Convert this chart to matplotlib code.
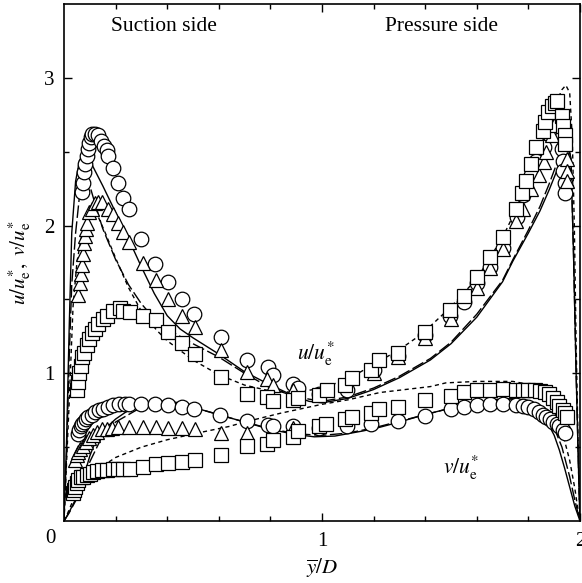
import matplotlib
matplotlib.use("Agg")
import matplotlib.pyplot as plt

plt.rcParams['font.family'] = 'serif'
plt.rcParams['font.serif'] = ['Liberation Serif', 'DejaVu Serif']
plt.rcParams['mathtext.fontset'] = 'stix'

# ---- model curves, u/u_e* ----
u_solid_x = [0, 0.01, 0.02, 0.03, 0.045, 0.06, 0.075, 0.09, 0.112, 0.15, 0.2, 0.25, 0.3, 0.35, 0.4, 0.45, 0.5,
             0.6, 0.7, 0.8, 0.9, 0.95, 1.0, 1.1, 1.2, 1.3, 1.42, 1.5, 1.55, 1.6, 1.65, 1.7, 1.74, 1.8, 1.845,
             1.88, 1.91, 1.94, 1.955, 1.965, 1.975, 1.985, 1.995, 2.0]
u_solid_y = [0, 0.55, 1.3, 1.95, 2.3, 2.44, 2.49, 2.5, 2.4, 2.27, 2.09, 1.91, 1.72, 1.54, 1.39, 1.3, 1.24,
             1.13, 1.01, 0.92, 0.84, 0.81, 0.80, 0.83, 0.89, 0.97, 1.09, 1.2, 1.29, 1.38, 1.5, 1.62, 1.76, 1.95, 2.1,
             2.24, 2.37, 2.5, 2.53, 2.45, 1.8, 1.0, 0.3, 0]

u_ldash_x = [0, 0.01, 0.02, 0.03, 0.045, 0.06, 0.085, 0.1, 0.12, 0.15, 0.2, 0.25, 0.3, 0.35, 0.4, 0.5,
             0.6, 0.7, 0.8, 0.9, 1.0, 1.1, 1.2, 1.3, 1.42, 1.5, 1.6, 1.7, 1.74, 1.8, 1.845,
             1.88, 1.91, 1.94, 1.955, 1.965, 1.975, 1.985, 1.995, 2.0]
u_ldash_y = [0, 0.45, 1.1, 1.6, 1.95, 2.2, 2.3, 2.27, 2.15, 1.98, 1.77, 1.6, 1.47, 1.37, 1.3, 1.2,
             1.11, 1.0, 0.9, 0.84, 0.81, 0.84, 0.9, 0.98, 1.1, 1.21, 1.4, 1.63, 1.77, 1.97, 2.13,
             2.28, 2.42, 2.53, 2.55, 2.45, 1.8, 1.0, 0.3, 0]

u_sdash_x = [0, 0.01, 0.02, 0.035, 0.05, 0.07, 0.09, 0.11, 0.13, 0.16, 0.2, 0.25, 0.3, 0.36, 0.4, 0.5,
             0.6, 0.7, 0.8, 0.9, 1.0, 1.1, 1.2, 1.3, 1.39, 1.5, 1.6, 1.65, 1.7, 1.75, 1.8, 1.83, 1.87,
             1.9, 1.93, 1.945, 1.96, 1.97, 1.978, 1.985, 1.993, 2.0]
u_sdash_y = [0, 0.4, 0.8, 1.45, 1.75, 1.95, 2.05, 2.09, 2.07, 1.95, 1.78, 1.58, 1.42, 1.29, 1.22, 1.09,
             0.99, 0.92, 0.88, 0.87, 0.9, 0.96, 1.06, 1.16, 1.27, 1.45, 1.64, 1.78, 1.92, 2.1, 2.3, 2.44, 2.65,
             2.8, 2.92, 2.95, 2.9, 2.6, 2.0, 1.2, 0.5, 0]

# ---- model curves, v/u_e* ----
v_solid_x = [0, 0.02, 0.04, 0.062, 0.08, 0.1, 0.12, 0.15, 0.2, 0.25, 0.3, 0.35, 0.4, 0.45, 0.5, 0.6, 0.7,
             0.8, 0.9, 0.97, 1.05, 1.16, 1.225, 1.3, 1.39, 1.5, 1.61, 1.7, 1.74, 1.8, 1.84, 1.87, 1.9, 1.92,
             1.94, 1.96, 1.98, 2.0]
v_solid_y = [0, 0.06, 0.13, 0.21, 0.32, 0.44, 0.53, 0.61, 0.69, 0.75, 0.79, 0.81, 0.81, 0.8, 0.77, 0.72, 0.67,
             0.62, 0.585, 0.57, 0.575, 0.61, 0.635, 0.67, 0.716, 0.765, 0.8, 0.82, 0.83, 0.8, 0.74, 0.68, 0.58, 0.48,
             0.36, 0.23, 0.1, 0]

v_ldash_x = [0, 0.02, 0.04, 0.062, 0.08, 0.1, 0.15, 0.2, 0.3, 0.4, 0.5, 0.6, 0.7, 0.8, 0.9, 1.0, 1.1, 1.2,
             1.3, 1.4, 1.5, 1.6, 1.7, 1.8, 1.85, 1.9, 1.93, 1.96, 1.98, 2.0]
v_ldash_y = [0, 0.055, 0.12, 0.19, 0.29, 0.4, 0.58, 0.67, 0.77, 0.8, 0.77, 0.72, 0.67, 0.625, 0.59, 0.58, 0.595, 0.63,
             0.675, 0.72, 0.765, 0.8, 0.83, 0.815, 0.76, 0.63, 0.5, 0.3, 0.14, 0]

v_sdash_x = [0, 0.01, 0.035, 0.07, 0.1, 0.14, 0.2, 0.3, 0.4, 0.53, 0.64, 0.7, 0.84, 1.0, 1.1, 1.225, 1.42,
             1.48, 1.6, 1.74, 1.8, 1.845, 1.88, 1.91, 1.935, 1.96, 1.98, 1.99, 2.0]
v_sdash_y = [0, 0.035, 0.14, 0.26, 0.31, 0.36, 0.43, 0.5, 0.55, 0.6, 0.64, 0.67, 0.73, 0.79, 0.82, 0.87, 0.91,
             0.935, 0.945, 0.945, 0.925, 0.885, 0.81, 0.7, 0.58, 0.41, 0.22, 0.1, 0]

# ---- measurements, u/u_e* ----
u_circ_x = [0.069, 0.072, 0.078, 0.081, 0.088, 0.094, 0.098, 0.103, 0.110, 0.120, 0.133, 0.142, 0.155, 0.165,
            0.172, 0.189, 0.21, 0.23, 0.252, 0.30, 0.353, 0.404, 0.456, 0.504, 0.607, 0.708, 0.79, 0.81, 0.889,
            0.908, 0.99, 1.096, 1.2, 1.296, 1.40, 1.496, 1.55, 1.60, 1.65, 1.70, 1.755, 1.78, 1.81, 1.83, 1.86,
            1.88, 1.90, 1.93, 1.93, 1.933, 1.935, 1.94, 1.94]
u_circ_y = [2.225, 2.29, 2.36, 2.42, 2.47, 2.52, 2.56, 2.60, 2.62, 2.62, 2.61, 2.57, 2.54, 2.51,
            2.47, 2.39, 2.29, 2.19, 2.11, 1.91, 1.74, 1.62, 1.50, 1.40, 1.245, 1.09, 1.04, 0.99, 0.93,
            0.90, 0.86, 0.885, 1.02, 1.12, 1.26, 1.39, 1.48, 1.61, 1.72, 1.85, 2.06, 2.21, 2.34, 2.44, 2.53,
            2.62, 2.66, 2.6, 2.52, 2.44, 2.37, 2.29, 2.22]

u_tri_x = [0.055, 0.062, 0.066, 0.069, 0.072, 0.078, 0.081, 0.085, 0.09, 0.098, 0.107, 0.12, 0.133, 0.146,
           0.169, 0.191, 0.21, 0.23, 0.253, 0.305, 0.357, 0.404, 0.456, 0.508, 0.607, 0.708, 0.788, 0.81, 0.889,
           1.2, 1.296, 1.4, 1.5, 1.6, 1.65, 1.70, 1.75, 1.78, 1.81, 1.84, 1.86, 1.87, 1.89, 1.9, 1.95, 1.95, 1.95]
u_tri_y = [1.53, 1.61, 1.67, 1.73, 1.81, 1.88, 1.93, 1.98, 2.02, 2.09, 2.11, 2.15, 2.16, 2.16,
           2.11, 2.08, 2.02, 1.955, 1.89, 1.75, 1.63, 1.50, 1.39, 1.31, 1.155, 1.01, 0.96, 0.92, 0.885,
           1.0, 1.11, 1.24, 1.37, 1.58, 1.71, 1.84, 2.03, 2.11, 2.25, 2.34, 2.43, 2.5, 2.61, 2.68, 2.45, 2.37, 2.3]

u_sq_x = [0.049, 0.055, 0.059, 0.065, 0.071, 0.078, 0.088, 0.098, 0.107, 0.12, 0.133, 0.15, 0.165, 0.191,
          0.217, 0.23, 0.256, 0.307, 0.357, 0.404, 0.456, 0.508, 0.607, 0.708, 0.786, 0.81, 0.889, 0.908, 0.99,
          1.018, 1.09, 1.115, 1.19, 1.22, 1.296, 1.40, 1.496, 1.55, 1.60, 1.65, 1.70, 1.75, 1.774, 1.79, 1.81,
          1.83, 1.855, 1.864, 1.877, 1.89, 1.903, 1.91, 1.93, 1.933, 1.94, 1.94]
u_sq_y = [0.885, 0.94, 1.0, 1.05, 1.11, 1.14, 1.19, 1.23, 1.27, 1.30, 1.335, 1.37, 1.39, 1.425,
          1.44, 1.425, 1.415, 1.39, 1.36, 1.28, 1.205, 1.13, 0.975, 0.86, 0.84, 0.81, 0.82, 0.835, 0.85,
          0.89, 0.92, 0.97, 1.02, 1.09, 1.14, 1.28, 1.43, 1.52, 1.655, 1.79, 1.92, 2.11, 2.22, 2.30, 2.42,
          2.53, 2.64, 2.70, 2.77, 2.81, 2.83, 2.84, 2.74, 2.675, 2.61, 2.55]

# ---- measurements, v/u_e* ----
v_circ_x = [0.055, 0.059, 0.065, 0.071, 0.078, 0.085, 0.094, 0.107, 0.12, 0.137, 0.152, 0.172, 0.191, 0.214,
            0.236, 0.253, 0.30, 0.353, 0.404, 0.456, 0.504, 0.605, 0.708, 0.79, 0.81, 0.889, 0.99, 1.096, 1.19,
            1.296, 1.40, 1.50, 1.55, 1.60, 1.65, 1.70, 1.75, 1.78, 1.80, 1.82, 1.84, 1.855, 1.87, 1.884,
            1.897, 1.91, 1.92, 1.935, 1.94]
v_circ_y = [0.59, 0.615, 0.64, 0.655, 0.67, 0.69, 0.705, 0.72, 0.735, 0.75, 0.76, 0.77, 0.785, 0.79,
            0.79, 0.795, 0.795, 0.79, 0.785, 0.77, 0.755, 0.715, 0.68, 0.65, 0.64, 0.64, 0.63, 0.64, 0.66,
            0.678, 0.71, 0.755, 0.77, 0.785, 0.79, 0.79, 0.785, 0.78, 0.77, 0.755, 0.74, 0.72, 0.705, 0.69,
            0.67, 0.655, 0.64, 0.615, 0.597]

v_tri_x = [0.043, 0.049, 0.055, 0.062, 0.072, 0.085, 0.098, 0.111, 0.127, 0.146, 0.165, 0.185, 0.21, 0.253,
           0.305, 0.357, 0.404, 0.456, 0.508, 0.607, 0.708, 0.788, 0.889]
v_tri_y = [0.41, 0.445, 0.47, 0.49, 0.51, 0.535, 0.56, 0.58, 0.60, 0.62, 0.625, 0.63, 0.635, 0.635,
           0.635, 0.635, 0.63, 0.63, 0.625, 0.595, 0.595, 0.53, 0.63]

v_sq_x = [0.036, 0.039, 0.043, 0.049, 0.055, 0.065, 0.075, 0.088, 0.10, 0.114, 0.129, 0.146, 0.165, 0.189,
          0.21, 0.23, 0.256, 0.305, 0.357, 0.404, 0.456, 0.508, 0.607, 0.708, 0.786, 0.81, 0.889, 0.908, 0.99,
          1.016, 1.09, 1.115, 1.19, 1.22, 1.296, 1.40, 1.50, 1.55, 1.60, 1.65, 1.70, 1.75, 1.78, 1.80, 1.826,
          1.845, 1.864, 1.88, 1.894, 1.91, 1.92, 1.933, 1.94, 1.95]
v_sq_y = [0.187, 0.21, 0.23, 0.255, 0.277, 0.295, 0.30, 0.31, 0.32, 0.33, 0.338, 0.345, 0.345, 0.35,
          0.35, 0.355, 0.355, 0.367, 0.385, 0.39, 0.40, 0.41, 0.45, 0.505, 0.52, 0.55, 0.57, 0.61, 0.64,
          0.66, 0.69, 0.705, 0.73, 0.76, 0.77, 0.82, 0.845, 0.87, 0.885, 0.89, 0.895, 0.89, 0.89, 0.89, 0.885,
          0.88, 0.875, 0.86, 0.835, 0.805, 0.78, 0.75, 0.73, 0.705]

fig = plt.figure(figsize=(5.82, 5.83), dpi=100)
ax = fig.add_axes([64 / 582, 1 - 521 / 583, 516 / 582, 517 / 583])

lw = 1.0
# model curves
for xs, ys in [(u_solid_x, u_solid_y), (v_solid_x, v_solid_y)]:
    ax.plot(xs, ys, color='k', lw=lw, ls='-', zorder=2)
for xs, ys in [(u_ldash_x, u_ldash_y), (v_ldash_x, v_ldash_y)]:
    ax.plot(xs, ys, color='k', lw=lw, ls=(0, (9, 2.5)), zorder=2)
for xs, ys in [(u_sdash_x, u_sdash_y), (v_sdash_x, v_sdash_y)]:
    ax.plot(xs, ys, color='k', lw=lw, ls=(0, (3, 2.5)), zorder=2)

# measurements
mk = dict(ls='none', mfc='white', mec='k', mew=0.9)
ax.plot(u_circ_x, u_circ_y, marker='o', ms=10.5, zorder=3, **mk)
ax.plot(v_circ_x, v_circ_y, marker='o', ms=10.5, zorder=3, **mk)
ax.plot(u_tri_x, u_tri_y, marker='^', ms=10.5, zorder=4, **mk)
ax.plot(v_tri_x, v_tri_y, marker='^', ms=10.5, zorder=4, **mk)
ax.plot(u_sq_x, u_sq_y, marker='s', ms=9.5, zorder=5, **mk)
ax.plot(v_sq_x, v_sq_y, marker='s', ms=9.5, zorder=5, **mk)

ax.set_xlim(0, 2)
ax.set_ylim(0, 3.5)
ax.set_xticks([1, 2])
ax.set_xticks([0.2 * i for i in range(1, 10)], minor=True)
ax.set_yticks([1, 2, 3])
ax.set_yticks([0.5, 1.5, 2.5], minor=True)
ax.tick_params(which='both', direction='in', top=True, right=True, labelsize=15, width=1)
ax.tick_params(which='major', length=6)
ax.tick_params(which='minor', length=3.5)
ax.tick_params(axis='x', pad=8)
ax.tick_params(axis='y', pad=7)
for s in ax.spines.values():
    s.set_linewidth(1.2)

ax.annotate('0', xy=(0, 0), xytext=(-10, -12.5), textcoords='offset points',
            ha='center', va='center', fontsize=15)

ax.set_xlabel(r'$\overline{y}/D$', fontsize=15)
ax.xaxis.set_label_coords(0.5, -36 / 517)
ax.set_ylabel(r'$u/u_{\mathrm{e}}^{*},\ v/u_{\mathrm{e}}^{*}$', fontsize=15)
ax.yaxis.set_label_coords(-31 / 516, 0.5)

ax.text(0.388, 3.345, 'Suction side', ha='center', va='center', fontsize=15.5)
ax.text(1.465, 3.345, 'Pressure side', ha='center', va='center', fontsize=15.5)
ax.text(0.975, 1.13, r'$u/u_{\mathrm{e}}^{*}$', ha='center', va='center', fontsize=15.5)
ax.text(1.54, 0.36, r'$v/u_{\mathrm{e}}^{*}$', ha='center', va='center', fontsize=15.5)

fig.savefig('out.png', dpi=100)
